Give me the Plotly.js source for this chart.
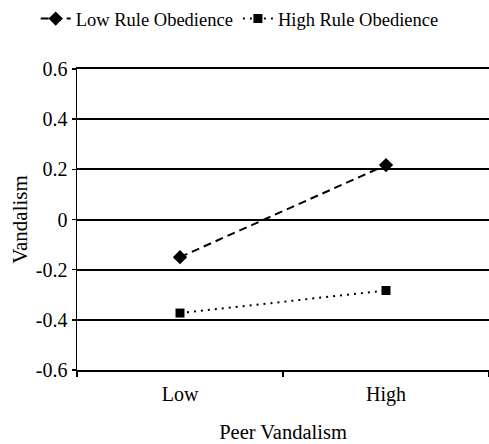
<!DOCTYPE html>
<html><head><meta charset="utf-8">
<script src="https://cdn.plot.ly/plotly-3.0.1.min.js"></script>
<style>body{margin:0;background:#fff}#c{width:489px;height:444px}</style>
</head><body><div id="c"></div>
<script>
var categories = ['Low', 'High'];
var lowObedience = [-0.15, 0.217];
var highObedience = [-0.373, -0.283];
var yTicks = [-0.6, -0.4, -0.2, 0, 0.2, 0.4, 0.6];
var yTickText = ['-0.6', '-0.4', '-0.2', '0', '0.2', '0.4', '0.6'];

function fnt(s) { return {family: 'Liberation Serif', size: s, color: '#000'}; }
var traces = [
  {x: categories, y: lowObedience, name: 'Low Rule Obedience', type: 'scatter', mode: 'lines+markers',
   line: {color: '#000', width: 2, dash: '8px,5px'}, marker: {symbol: 'diamond', size: 11, color: '#000'}},
  {x: categories, y: highObedience, name: 'High Rule Obedience', type: 'scatter', mode: 'lines+markers',
   line: {color: '#000', width: 2, dash: '2px,5px'}, marker: {symbol: 'square', size: 9, color: '#000'}}
];
var layout = {
  width: 489, height: 444,
  margin: {l: 77, r: 0, t: 69, b: 74},
  paper_bgcolor: '#fff', plot_bgcolor: '#fff',
  font: fnt(18),
  showlegend: true,
  legend: {orientation: 'h', xref: 'container', yref: 'container', x: 0.073, y: 1.0, xanchor: 'left', yanchor: 'top',
    font: fnt(18.5), itemwidth: 30, tracegroupgap: 0, bgcolor: 'rgba(0,0,0,0)'},
  xaxis: {type: 'category', range: [-0.5, 1.5], showgrid: false, zeroline: false, showline: true, mirror: true,
    linecolor: '#000', linewidth: 2,
    ticks: 'outside', tickson: 'boundaries', ticklen: 5, tickcolor: '#000', tickwidth: 1.5,
    tickfont: fnt(20), ticklabelstandoff: 5, fixedrange: true,
    title: {text: 'Peer Vandalism', font: fnt(20.5), standoff: 20}},
  yaxis: {range: [-0.6, 0.6], tickvals: yTicks, ticktext: yTickText, showgrid: true, gridcolor: '#000', gridwidth: 2,
    zeroline: false, showline: true, linecolor: '#000', linewidth: 1.5,
    ticks: 'outside', ticklen: 4, tickcolor: '#000', tickwidth: 1.5, tickfont: fnt(20),
    title: {text: 'Vandalism', font: fnt(21), standoff: 2}}
};
Plotly.newPlot('c', traces, layout, {displayModeBar: false, staticPlot: true});
</script></body></html>
